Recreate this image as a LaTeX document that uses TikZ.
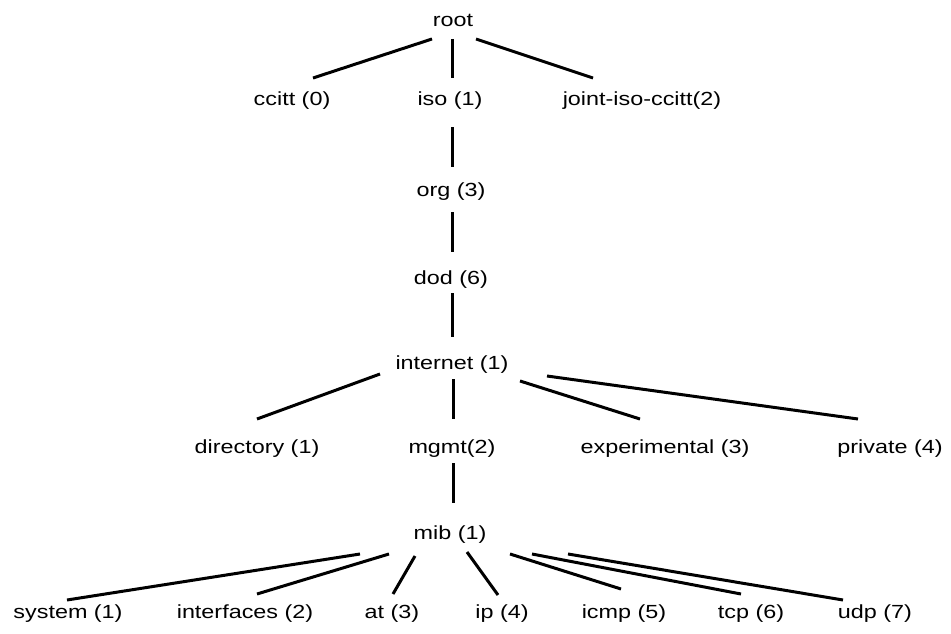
\documentclass[tikz,border=0pt]{standalone}
\usepackage{fontspec}
\setmainfont{Liberation Sans}
\usepackage{graphicx}
\begin{document}
\begin{tikzpicture}[x=1pt,y=-1pt,
  label/.style={anchor=base,inner sep=0pt,font=\fontsize{19}{22}\selectfont},
  edge/.style={line width=3pt}]
\useasboundingbox (0,0) rectangle (951,634);
\newcommand{\wide}[1]{\scalebox{1.23}[1]{#1}}
% tree labels
\node[label] (root) at (453,27) {\wide{root}};
\node[label] (ccitt) at (292,106) {\wide{ccitt (0)}};
\node[label] (iso) at (450,106) {\wide{iso (1)}};
\node[label] (joint) at (642,106) {\wide{joint-iso-ccitt(2)}};
\node[label] (org) at (451,196) {\wide{org (3)}};
\node[label] (dod) at (451,284) {\wide{dod (6)}};
\node[label] (internet) at (452,369) {\wide{internet (1)}};
\node[label] (directory) at (257,453) {\wide{directory (1)}};
\node[label] (mgmt) at (452,453) {\wide{mgmt(2)}};
\node[label] (experimental) at (665,453) {\wide{experimental (3)}};
\node[label] (private) at (890,453) {\wide{private (4)}};
\node[label] (mib) at (450,539) {\wide{mib (1)}};
\node[label] (system) at (68,618) {\wide{system (1)}};
\node[label] (interfaces) at (245,618) {\wide{interfaces (2)}};
\node[label] (at) at (392,618) {\wide{at (3)}};
\node[label] (ip) at (502,618) {\wide{ip (4)}};
\node[label] (icmp) at (624,618) {\wide{icmp (5)}};
\node[label] (tcp) at (751,618) {\wide{tcp (6)}};
\node[label] (udp) at (875,618) {\wide{udp (7)}};
% connector ends
\coordinate (root-ccitt-a) at (432,39);  \coordinate (root-ccitt-b) at (313,78);
\coordinate (root-iso-a) at (452,39);    \coordinate (root-iso-b) at (452,78);
\coordinate (root-joint-a) at (476,39);  \coordinate (root-joint-b) at (593,78);
\coordinate (iso-org-a) at (452,127);    \coordinate (iso-org-b) at (452,167);
\coordinate (org-dod-a) at (452,212);    \coordinate (org-dod-b) at (452,252);
\coordinate (dod-int-a) at (452,293);    \coordinate (dod-int-b) at (452,337);
\coordinate (int-dir-a) at (380,374);    \coordinate (int-dir-b) at (257,419);
\coordinate (int-mgmt-a) at (453,379);   \coordinate (int-mgmt-b) at (453,419);
\coordinate (int-exp-a) at (520,381);    \coordinate (int-exp-b) at (640,419);
\coordinate (int-priv-a) at (547,376);   \coordinate (int-priv-b) at (858,419);
\coordinate (mgmt-mib-a) at (453,463);   \coordinate (mgmt-mib-b) at (453,503);
\coordinate (mib-sys-a) at (360,554);    \coordinate (mib-sys-b) at (67,600);
\coordinate (mib-if-a) at (389,554);     \coordinate (mib-if-b) at (257,594);
\coordinate (mib-at-a) at (415,556);     \coordinate (mib-at-b) at (393,594);
\coordinate (mib-ip-a) at (467,552);     \coordinate (mib-ip-b) at (498,595);
\coordinate (mib-icmp-a) at (510,554);   \coordinate (mib-icmp-b) at (621,589);
\coordinate (mib-tcp-a) at (532,554);    \coordinate (mib-tcp-b) at (741,594);
\coordinate (mib-udp-a) at (568,554);    \coordinate (mib-udp-b) at (843,600);
% connectors
\foreach \e in {root-ccitt,root-iso,root-joint,iso-org,org-dod,dod-int,
  int-dir,int-mgmt,int-exp,int-priv,mgmt-mib,
  mib-sys,mib-if,mib-at,mib-ip,mib-icmp,mib-tcp,mib-udp}
  \draw[edge] (\e-a) -- (\e-b);
\end{tikzpicture}
\end{document}
